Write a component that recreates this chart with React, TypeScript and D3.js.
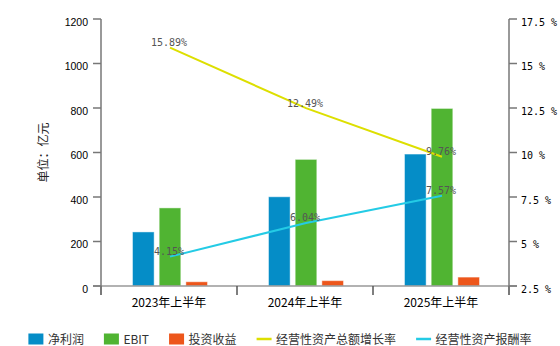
import React, { useEffect, useRef } from 'react';
import * as d3 from 'd3';

const categories = ['2023年上半年', '2024年上半年', '2025年上半年'];
const netProfit = [243, 401, 593];
const ebit = [351, 569, 798];
const investIncome = [19, 24, 40];
const assetGrowth = [15.89, 12.49, 9.76];
const assetReturn = [4.15, 6.04, 7.57];
const leftTicks = [0, 200, 400, 600, 800, 1000, 1200];
const rightTicks = [2.5, 5, 7.5, 10, 12.5, 15, 17.5];
const barSeries = [
  { name: '净利润', values: netProfit, color: '#058DC7' },
  { name: 'EBIT', values: ebit, color: '#50B432' },
  { name: '投资收益', values: investIncome, color: '#ED561B' },
];
const lineSeries = [
  { name: '经营性资产总额增长率', values: assetGrowth, color: '#DDDF00' },
  { name: '经营性资产报酬率', values: assetReturn, color: '#24CBE5' },
];

const W = 560, H = 346;
const M = { left: 101, right: 509, top: 19, bottom: 286 };

export default function App() {
  const ref = useRef<SVGSVGElement | null>(null);
  useEffect(() => {
    const svg = d3.select(ref.current);
    svg.selectAll('*').remove();
    const x = d3.scaleBand<string>().domain(categories).range([M.left, M.right]);
    const x1 = d3.scaleBand<string>().domain(barSeries.map(s => s.name)).range([-36.5, 38.5]).paddingInner(0.19);
    const yL = d3.scaleLinear().domain([0, 1200]).range([M.bottom, M.top]);
    const yR = d3.scaleLinear().domain([2.5, 17.5]).range([M.bottom, M.top]);
    const axisColor = '#777';
    const sans = 'Liberation Sans, Arial, sans-serif';
    const mono = 'DejaVu Sans Mono, monospace';
    const cjk = 'Noto Sans CJK SC, sans-serif';

    // bars
    barSeries.forEach(s => {
      svg.append('g').selectAll('rect').data(s.values).join('rect')
        .attr('x', (_d, i) => (x(categories[i])! + x.bandwidth() / 2) + x1(s.name)!)
        .attr('y', d => yL(d))
        .attr('width', x1.bandwidth())
        .attr('height', d => yL(0) - yL(d))
        .attr('fill', s.color)
        .attr('stroke', 'rgba(255,255,255,0.45)')
        .attr('stroke-width', 1);
    });

    // axes
    const g = svg.append('g');
    g.append('line').attr('x1', M.left - 8).attr('x2', M.right + 8).attr('y1', M.bottom).attr('y2', M.bottom)
      .attr('stroke', '#999').attr('stroke-width', 1.5);
    const bounds = categories.map(c => x(c)!).concat([M.right]);
    g.selectAll('line.xt').data(bounds).join('line').attr('class', 'xt')
      .attr('x1', d => d).attr('x2', d => d).attr('y1', M.bottom).attr('y2', M.bottom + 9)
      .attr('stroke', '#555').attr('stroke-width', 1.5);
    [M.left, M.right].forEach(px => {
      g.append('line').attr('x1', px).attr('x2', px).attr('y1', M.top).attr('y2', M.bottom + 9)
        .attr('stroke', axisColor).attr('stroke-width', 1.5);
    });
    g.selectAll('line.lt').data(leftTicks).join('line').attr('class', 'lt')
      .attr('x1', M.left - 8).attr('x2', M.left).attr('y1', d => yL(d)).attr('y2', d => yL(d))
      .attr('stroke', axisColor).attr('stroke-width', 1.5);
    g.selectAll('text.ll').data(leftTicks).join('text').attr('class', 'll')
      .attr('x', M.left - 13).attr('y', d => yL(d) + 6.5).attr('text-anchor', 'end')
      .attr('font-family', sans).attr('font-size', 10.5).attr('fill', '#000').text(d => String(d));
    g.selectAll('line.rt').data(rightTicks).join('line').attr('class', 'rt')
      .attr('x1', M.right).attr('x2', M.right + 8).attr('y1', d => yR(d)).attr('y2', d => yR(d))
      .attr('stroke', axisColor).attr('stroke-width', 1.5);
    g.selectAll('text.rl').data(rightTicks).join('text').attr('class', 'rl')
      .attr('x', M.right + 12).attr('y', d => yR(d) + 6.5)
      .attr('font-family', mono).attr('font-size', 10).attr('fill', '#000').text(d => `${d} %`);
    g.selectAll('text.xl').data(categories).join('text').attr('class', 'xl')
      .attr('x', d => x(d)! + x.bandwidth() / 2).attr('y', M.bottom + 21).attr('text-anchor', 'middle')
      .attr('font-family', cjk).attr('font-size', 12).attr('fill', '#000').text(d => d);
    g.append('text').attr('transform', `translate(47.5,${(M.top + M.bottom) / 2}) rotate(-90)`)
      .attr('text-anchor', 'middle').attr('font-family', cjk).attr('font-size', 12).attr('fill', '#222')
      .text('单位：亿元');

    // lines
    lineSeries.forEach(s => {
      const pts = s.values.map((v, i) => [x(categories[i])! + x.bandwidth() / 2 + 1, yR(v)] as [number, number]);
      svg.append('path').attr('d', d3.line()(pts)!).attr('fill', 'none')
        .attr('stroke', s.color).attr('stroke-width', 2);
      svg.append('g').selectAll('text').data(s.values).join('text')
        .attr('x', (_d, i) => pts[i][0] - 1).attr('y', (_d, i) => pts[i][1] - 1.5)
        .attr('text-anchor', 'middle').attr('font-family', mono).attr('font-size', 10)
        .attr('fill', '#555').text(d => `${d.toFixed(2)}%`);
    });

    // legend
    const items = [
      ...barSeries.map(s => ({ name: s.name, color: s.color, type: 'rect' })),
      ...lineSeries.map(s => ({ name: s.name, color: s.color, type: 'line' })),
    ];
    const lg = svg.append('g');
    const ly = 339;
    const gap = 20;
    let cx = 0;
    items.forEach(it => {
      const ig = lg.append('g').attr('transform', `translate(${cx},0)`);
      if (it.type === 'rect') {
        ig.append('rect').attr('x', 0).attr('y', ly - 5.5).attr('width', 15).attr('height', 11).attr('fill', it.color);
      } else {
        ig.append('line').attr('x1', 0).attr('x2', 15).attr('y1', ly).attr('y2', ly).attr('stroke', it.color).attr('stroke-width', 2.5);
      }
      const t = ig.append('text').attr('x', 19.5).attr('y', ly + 4.5).attr('font-family', cjk)
        .attr('font-size', 12).attr('fill', '#333').text(it.name);
      const tw = (t.node() as SVGTextElement).getComputedTextLength();
      cx += 19.5 + tw + gap;
    });
    const total = cx - gap;
    lg.attr('transform', `translate(${(W - total) / 2},0)`);
  }, []);
  return (
    <svg ref={ref} width={W} height={H} style={{ position: 'absolute', left: 0, top: 0, background: '#fff' }} />
  );
}
